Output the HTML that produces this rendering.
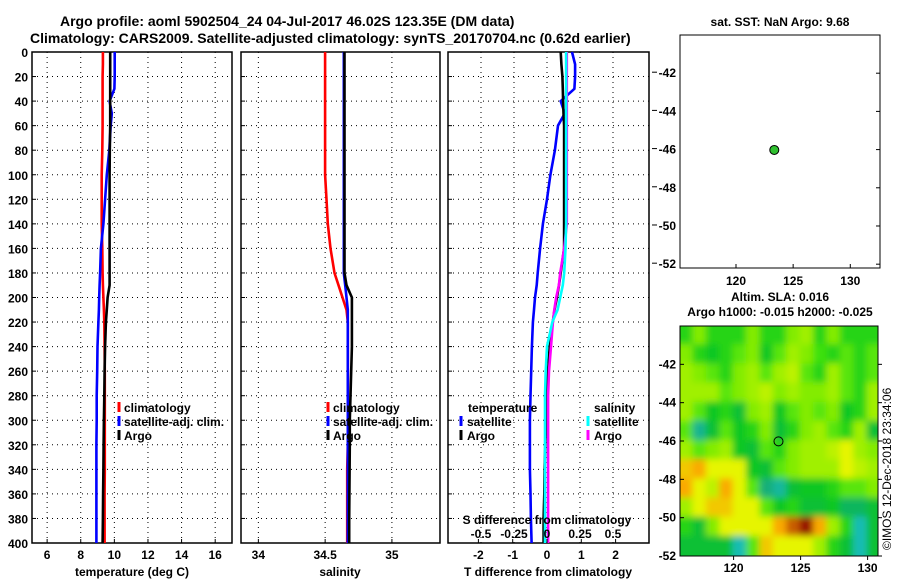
<!DOCTYPE html>
<html><head><meta charset="utf-8"><style>
html,body{margin:0;padding:0;background:#fff;}
svg{display:block;font-family:"Liberation Sans",sans-serif;font-weight:bold;}
</style></head><body>
<svg id="chart" width="900" height="580" viewBox="0 0 900 580" xmlns="http://www.w3.org/2000/svg">
<defs><filter id="blur" x="0" y="0" width="1" height="1"><feGaussianBlur stdDeviation="3.5"/></filter>
<clipPath id="mapclip"><rect x="680" y="326" width="198" height="230"/></clipPath></defs>
<text x="60" y="26" font-size="14">Argo profile: aoml 5902504_24 04-Jul-2017 46.02S 123.35E (DM data)</text>
<text x="30" y="43" font-size="14">Climatology: CARS2009. Satellite-adjusted climatology: synTS_20170704.nc (0.62d earlier)</text>
<text x="780" y="26" font-size="12" text-anchor="middle">sat. SST: NaN Argo: 9.68</text>
<text x="780" y="301" font-size="12" text-anchor="middle">Altim. SLA: 0.016</text>
<text x="780" y="316" font-size="12" text-anchor="middle">Argo h1000: -0.015 h2000: -0.025</text>
<text transform="translate(891,550) rotate(-90)" font-size="12" font-weight="normal">©IMOS 12-Dec-2018 23:34:06</text>
<g id="g"></g>
</svg>
<script>
const depths=[0,10,20,30,40,50,60,80,100,120,140,160,180,190,200,210,220,240,260,280,300,320,340,360,380,400];
const tClim=[9.32,9.32,9.3,9.3,9.3,9.3,9.3,9.28,9.25,9.25,9.25,9.28,9.3,9.32,9.35,9.38,9.4,9.42,9.43,9.43,9.43,9.43,9.43,9.42,9.42,9.42];
const tSat=[10.02,10.02,10.02,10.0,9.72,9.85,9.78,9.7,9.55,9.45,9.35,9.2,9.15,9.12,9.1,9.08,9.05,9.0,8.98,8.95,8.95,8.93,8.93,8.93,8.93,8.93];
const tArgo=[9.75,9.75,9.75,9.75,9.75,9.75,9.75,9.73,9.72,9.72,9.72,9.72,9.72,9.72,9.6,9.55,9.5,9.45,9.42,9.4,9.38,9.36,9.35,9.33,9.32,9.3];
const sClim=[34.5,34.5,34.5,34.5,34.5,34.5,34.5,34.5,34.5,34.51,34.52,34.54,34.57,34.6,34.63,34.66,34.67,34.67,34.67,34.67,34.67,34.67,34.665,34.665,34.665,34.665];
const sSat=[34.64,34.64,34.64,34.64,34.64,34.64,34.64,34.64,34.64,34.64,34.64,34.64,34.64,34.65,34.66,34.67,34.67,34.67,34.67,34.67,34.67,34.67,34.67,34.67,34.67,34.67];
const sArgo=[34.645,34.645,34.645,34.645,34.645,34.645,34.645,34.645,34.645,34.645,34.645,34.645,34.645,34.66,34.7,34.7,34.7,34.7,34.695,34.69,34.685,34.685,34.683,34.682,34.68,34.68];
const dTSat=[0.73,0.82,0.82,0.8,0.4,0.52,0.32,0.23,0.1,0.0,-0.12,-0.2,-0.27,-0.3,-0.35,-0.38,-0.41,-0.44,-0.46,-0.48,-0.5,-0.5,-0.5,-0.48,-0.47,-0.45];
const dTArgo=[0.4,0.42,0.45,0.46,0.47,0.48,0.5,0.5,0.5,0.5,0.5,0.5,0.4,0.35,0.29,0.22,0.17,0.08,0.03,0,-0.02,-0.05,-0.07,-0.08,-0.1,-0.1];
const dSSat=[0.145,0.145,0.145,0.145,0.145,0.145,0.145,0.145,0.145,0.145,0.145,0.14,0.13,0.12,0.1,0.08,0.04,0.0,-0.01,-0.015,-0.015,-0.015,-0.015,-0.015,-0.015,-0.015];
const dSArgo=[0.15,0.15,0.15,0.15,0.15,0.15,0.15,0.15,0.15,0.15,0.15,0.13,0.1,0.09,0.07,0.055,0.045,0.03,0.015,0.008,0.008,0.008,0.008,0.008,0.008,0.008];
const depthTicks=[0,20,40,60,80,100,120,140,160,180,200,220,240,260,280,300,320,340,360,380,400];
const tTicks=[6,8,10,12,14,16];
const sTicks=[34,34.5,35];
const sTickLabels=["34","34.5","35"];
const dTTicks=[-2,-1,0,1,2];
const dSTicks=[-0.5,-0.25,0,0.25,0.5];
const dSTickLabels=["-0.5","-0.25","0","0.25","0.5"];
const argoLon=123.35, argoLat=-46.02;
const mapLonTicks=[120,125,130];
const mapLatTicks=[-42,-44,-46,-48,-50,-52];
const slaLon0=116, slaLat0=-40;
const sla=[
[0,0.8,0,0,0,0.8,0,0,0.8,1,0,0.8,0,0,0],
[0.8,0,-0.3,0,0.5,0.8,-0.3,0.5,1,0.8,0.3,0,0.5,0,0.5],
[1,0.8,0.5,0,0.8,1,0.5,1,1.2,0.5,0,1,0.5,0,0.5],
[1,1,1,0.5,0.8,1,1.2,0.8,1,0.8,0.8,1,0.5,0,1],
[1,0.5,-0.3,0,-0.5,0.8,1,-0.3,0.5,0.8,0.5,0.8,-0.3,0,1],
[0.5,-1.2,-0.5,0.5,-0.3,0,0.8,-0.5,0,0.8,1,0.5,0,1,-0.5],
[1,0.5,0.8,1,-0.3,-0.5,0.5,0,0.8,1,1,1.2,1.5,1,0.8],
[1.8,2,1.5,1.5,1.5,-0.3,-0.5,0.5,0.8,1,1,1,1.5,1.2,1],
[2,1.5,1.2,2,1.5,0.5,-1,-1.3,-0.5,-0.3,-0.3,0,0.5,0.5,0.8],
[1,1.5,1.8,1.8,1.5,1.5,0.5,-0.3,0,-0.5,-0.5,-0.3,-0.8,-0.8,-0.5],
[0,-0.5,0.8,1.5,1.5,1.5,1.5,2,2.5,3,2,1,0,-1.5,-0.5],
[-0.5,-0.5,-0.5,-0.5,-1.5,0.5,1.8,1.5,1.5,1.5,1,0,-0.5,-1.5,-0.5]];

const NS="http://www.w3.org/2000/svg";
const G=document.getElementById('g');
function mk(tag,attrs,parent){const e=document.createElementNS(NS,tag);for(const k in attrs)e.setAttribute(k,attrs[k]);(parent||G).appendChild(e);return e;}
const yTop=52,yBot=543;
const yD=d=>yTop+(d/400)*(yBot-yTop);
function lin(d0,d1,r0,r1){return v=>r0+(v-d0)/(d1-d0)*(r1-r0);}
const xT=lin(5.1,17.0,32,232);
const xS=lin(33.87,35.36,241,440);
const xDT=lin(0,1,547,581.3);
const xDS=lin(0,1,547,679);

function panel(x0,x1,name,gridXs,showY){
  for(const d of depthTicks){
    if(d>0&&d<400){const l=mk('line',{x1:x0,x2:x1,y1:yD(d),y2:yD(d),stroke:'#000','stroke-width':1,'stroke-dasharray':'1,4'});
    }
    const t=mk('line',{x1:x0,x2:x0+4,y1:yD(d),y2:yD(d),stroke:'#000'});
    
    if(showY){const tx=mk('text',{x:x0-4,y:yD(d)+5,'font-size':12,'text-anchor':'end'});tx.textContent=d;
      }
  }
  for(const gx of gridXs){const l=mk('line',{x1:gx,x2:gx,y1:yTop,y2:yBot,stroke:'#000','stroke-width':1,'stroke-dasharray':'1,4'});
    }
  const r=mk('rect',{x:x0,y:yTop,width:x1-x0,height:yBot-yTop,fill:'none',stroke:'#000','stroke-width':1.5});
  
}
function series(vals,xf,color,name,w){
  const pts=depths.map((d,i)=>xf(vals[i]).toFixed(1)+','+yD(d).toFixed(1)).join(' ');
  const p=mk('polyline',{points:pts,fill:'none',stroke:color,'stroke-width':w||2.6});
  
}
function xlabels(ticks,labels,xf,y,name){
  ticks.forEach((t,i)=>{const tx=mk('text',{x:xf(t),y:y,'font-size':12,'text-anchor':'middle'});tx.textContent=labels?labels[i]:t;
    
    const tk=mk('line',{x1:xf(t),x2:xf(t),y1:yBot,y2:yBot-4,stroke:'#000'});
    });
}
function txt(x,y,s,name,anchor,size){const t=mk('text',{x:x,y:y,'font-size':size||12,'text-anchor':anchor||'start'});t.textContent=s;
  return t;}
function legendMark(x,y,color,name){const l=mk('line',{x1:x,x2:x,y1:y-10,y2:y,stroke:color,'stroke-width':3});
  }

panel(32,232,'temperature-panel',tTicks.map(xT),true);
series(tClim,xT,'#f00','temperature-climatology-line');
series(tSat,xT,'#00f','temperature-satellite-line');
series(tArgo,xT,'#000','temperature-argo-line');
xlabels(tTicks,null,xT,559,'temperature-tick-label');
txt(132,576,'temperature (deg C)','temperature-axis-title','middle');
legendMark(119,412,'#f00','legend-climatology-mark');txt(124,412,'climatology','legend-climatology');
legendMark(119,426,'#00f','legend-satellite-mark');txt(124,426,'satellite-adj. clim.','legend-satellite');
legendMark(119,440,'#000','legend-argo-mark');txt(124,440,'Argo','legend-argo');

panel(241,440,'salinity-panel',[34,34.5,35].map(xS),false);
series(sClim,xS,'#f00','salinity-climatology-line');
series(sSat,xS,'#00f','salinity-satellite-line');
series(sArgo,xS,'#000','salinity-argo-line');
xlabels(sTicks,sTickLabels,xS,559,'salinity-tick-label');
txt(340,576,'salinity','salinity-axis-title','middle');
legendMark(328,412,'#f00','legend2-climatology-mark');txt(333,412,'climatology','legend2-climatology');
legendMark(328,426,'#00f','legend2-satellite-mark');txt(333,426,'satellite-adj. clim.','legend2-satellite');
legendMark(328,440,'#000','legend2-argo-mark');txt(333,440,'Argo','legend2-argo');

panel(448,649,'difference-panel',dSTicks.map(xDS),false);
series(dTSat,xDT,'#00f','t-diff-satellite-line');
series(dTArgo,xDT,'#000','t-diff-argo-line');
series(dSArgo,xDS,'#f0f','s-diff-argo-line');
series(dSSat,xDS,'#0ff','s-diff-satellite-line');
xlabels(dTTicks,null,xDT,559,'t-diff-tick-label');
txt(548,576,'T difference from climatology','t-diff-axis-title','middle');
txt(547,524,'S difference from climatology','s-diff-axis-title','middle');
dSTicks.forEach((t,i)=>txt(xDS(t),538,dSTickLabels[i],'s-diff-tick-label','middle'));
txt(468,412,'temperature','legend3-temperature-header');
legendMark(461,426,'#00f','legend3-t-satellite-mark');txt(467,426,'satellite','legend3-t-satellite');
legendMark(461,440,'#000','legend3-t-argo-mark');txt(467,440,'Argo','legend3-t-argo');
txt(594,412,'salinity','legend3-salinity-header');
legendMark(588,426,'#0ff','legend3-s-satellite-mark');txt(594,426,'satellite','legend3-s-satellite');
legendMark(588,440,'#f0f','legend3-s-argo-mark');txt(594,440,'Argo','legend3-s-argo');

const mxT=lin(115.1,132.6,680,880), myT=lin(-40,-52.2,35,268);
mapLatTicks.forEach(v=>{
  const a=mk('line',{x1:652,x2:657,y1:myT(v)-1,y2:myT(v)-1,stroke:'#000'});
  txt(676,myT(v)+4,String(v),'sst-lat-label','end');
  const b=mk('line',{x1:880,x2:876,y1:myT(v),y2:myT(v),stroke:'#000'});});
mapLonTicks.forEach(v=>{txt(mxT(v),285,String(v),'sst-lon-label','middle');
  const b=mk('line',{x1:mxT(v),x2:mxT(v),y1:268,y2:264,stroke:'#000'});});
const sf=mk('rect',{x:680,y:35,width:200,height:233,fill:'none',stroke:'#000'});
const dot=mk('circle',{cx:mxT(argoLon),cy:myT(argoLat),r:4.5,fill:'#30c030',stroke:'#000'});


const mxB=lin(116,131,680,881), myB=lin(-40,-52,326,556);
function slaColor(v){const stops=[[-2,[30,200,240]],[-1,[20,175,120]],[-0.4,[10,195,40]],[0.3,[60,225,10]],[1,[160,240,0]],[1.5,[230,245,0]],[2,[250,170,0]],[3,[150,15,0]]];
  if(v<=stops[0][0])return 'rgb('+stops[0][1]+')';
  for(let i=1;i<stops.length;i++){if(v<=stops[i][0]){const [a,ca]=stops[i-1],[b,cb]=stops[i];const f=(v-a)/(b-a);
    return 'rgb('+ca.map((c,j)=>Math.round(c+(cb[j]-c)*f)).join(',')+')';}}
  return 'rgb('+stops[stops.length-1][1]+')';}
const hm=mk('g',{'clip-path':'url(#mapclip)'});
const hmInner=mk('g',{filter:'url(#blur)'},hm);

sla.forEach((row,r)=>row.forEach((v,c)=>{
  const x0=mxB(slaLon0+c)-1,x1=mxB(slaLon0+c+1)+1,y0=myB(slaLat0-r)-1,y1=myB(slaLat0-r-1)+1;
  const cell=mk('rect',{x:x0-(c==0?15:0),y:y0-(r==0?15:0),width:x1-x0+(c==0?15:0)+(c==row.length-1?15:0),height:y1-y0+(r==0?15:0)+(r==sla.length-1?15:0),fill:slaColor(v)},hmInner);
  }));
const bf=mk('rect',{x:680,y:326,width:198,height:230,fill:'none',stroke:'#000'});
mapLatTicks.forEach(v=>{txt(676,myB(v)+4,String(v),'sla-lat-label','end');
  const b=mk('line',{x1:878,x2:882,y1:myB(v),y2:myB(v),stroke:'#000'});
  const a=mk('line',{x1:680,x2:684,y1:myB(v),y2:myB(v),stroke:'#000'});});
mapLonTicks.forEach(v=>{txt(mxB(v),572,String(v),'sla-lon-label','middle');
  const b=mk('line',{x1:mxB(v),x2:mxB(v),y1:556,y2:560,stroke:'#000'});});
const ring=mk('circle',{cx:mxB(argoLon),cy:myB(argoLat),r:4.5,fill:'none',stroke:'#000'});

</script>
</body></html>
